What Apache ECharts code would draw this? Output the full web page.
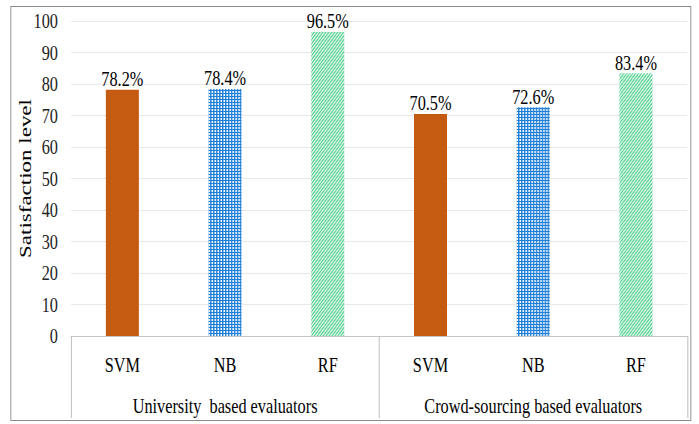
<!DOCTYPE html>
<html>
<head>
<meta charset="utf-8">
<script src="https://cdn.jsdelivr.net/npm/echarts@6/dist/echarts.min.js"></script>
<style>
  html, body { margin: 0; padding: 0; background: #fff; overflow: hidden; width: 699px; height: 424px; }
  /* The figure uses a narrow, tall typeface look: lay the chart out wider and squeeze it horizontally. */
  #chart { width: 945px; height: 424px; transform: scaleX(0.74); transform-origin: 0 0; }
</style>
</head>
<body>
<div id="chart"></div>
<script>
// Classifier categories and evaluator groups
const methods = ['SVM', 'NB', 'RF', 'SVM', 'NB', 'RF'];
const groups = ['University  based evaluators', 'Crowd-sourcing based evaluators'];
// Satisfaction level (%) per classifier and evaluator group
const satisfaction = [78.2, 78.4, 96.5, 70.5, 72.6, 83.4];
const yTicks = [0, 10, 20, 30, 40, 50, 60, 70, 80, 90, 100];

const SX = 0.74;                 // horizontal squeeze applied to the chart container
const h = px => px / SX;         // convert an on-screen horizontal size into layout units
const FONT = '"Liberation Serif", "Times New Roman", Times, serif';

// Small repeating tiles used as bar fills
function dotTile() {
  const c = document.createElement('canvas');
  c.width = 4; c.height = 3;
  const g = c.getContext('2d');
  g.fillStyle = '#ffffff';
  g.fillRect(0, 0, 4, 3);
  g.fillStyle = '#1f7fd6';
  g.fillRect(0, 0, 4, 1);
  g.fillRect(0, 0, 2, 3);
  return c;
}
function hatchTile() {
  const n = 4;
  const c = document.createElement('canvas');
  c.width = n; c.height = n;
  const g = c.getContext('2d');
  g.fillStyle = '#ffffff';
  g.fillRect(0, 0, n, n);
  g.fillStyle = '#3ccb82';
  for (let y = 0; y < n; y++) {
    const x = (n - 1 - y);
    g.fillRect(x, y, 2, 1);
    if (x + 1 >= n) g.fillRect(0, y, 1, 1);
  }
  return c;
}

const fills = {
  SVM: '#c55a11',
  NB: { image: dotTile(), repeat: 'repeat' },
  RF: { image: hatchTile(), repeat: 'repeat' }
};

const chart = echarts.init(document.getElementById('chart'), null, { renderer: 'svg' });

chart.setOption({
  animation: false,
  backgroundColor: '#ffffff',
  textStyle: { fontFamily: FONT },
  grid: { left: h(71), right: h(12), top: 21, bottom: 88, outerBoundsMode: 'none', containLabel: false },
  xAxis: [
    {
      type: 'category',
      data: methods,
      axisLine: { show: true, lineStyle: { color: '#bfbfbf', width: 1 } },
      axisTick: { show: false },
      axisLabel: { color: '#000', fontFamily: FONT, fontSize: 22, margin: 18 }
    },
    {
      type: 'category',
      data: groups,
      position: 'bottom',
      boundaryGap: true,
      axisLine: { show: false },
      axisTick: { show: true, length: 82, lineStyle: { color: '#bfbfbf', width: 1.35 } },
      axisLabel: { color: '#000', fontFamily: FONT, fontSize: 22, margin: 59, interval: 0 }
    }
  ],
  yAxis: {
    type: 'value',
    min: yTicks[0],
    max: yTicks[yTicks.length - 1],
    interval: 10,
    name: 'Satisfaction level',
    nameLocation: 'middle',
    nameRotate: 90,
    nameGap: h(71 - 25) - 11,
    nameMoveOverlap: false,
    nameTextStyle: { color: '#000', fontFamily: FONT, fontSize: 23 },
    axisLine: { show: false },
    axisTick: { show: false },
    splitLine: { lineStyle: { color: '#e4e4e4', width: 1 } },
    axisLabel: { color: '#222', fontFamily: FONT, fontSize: 22, margin: h(13) }
  },
  series: [
    {
      type: 'bar',
      xAxisIndex: 0,
      barWidth: h(33),
      data: satisfaction.map((v, i) => ({
        value: v,
        itemStyle: { color: fills[methods[i]] }
      })),
      label: {
        show: true,
        position: 'top',
        distance: 0,
        formatter: p => p.value + '%',
        color: '#000',
        fontFamily: FONT,
        fontSize: 22
      }
    }
  ],
  graphic: [
    {
      type: 'rect',
      left: h(9), top: 4,
      shape: { width: h(680), height: 414 },
      style: { fill: 'none', stroke: '#8a8a8a', lineWidth: 1.2 },
      silent: true
    }
  ]
});
</script>
</body>
</html>
